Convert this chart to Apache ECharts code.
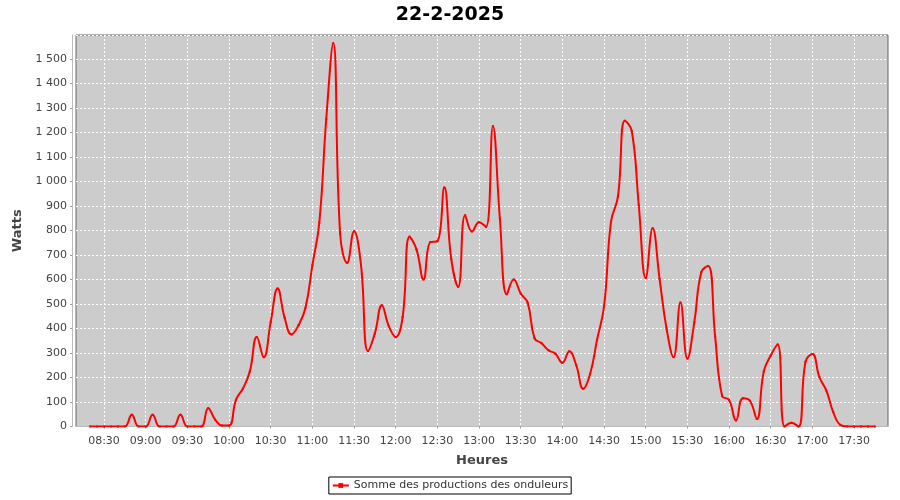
<!DOCTYPE html>
<html><head><meta charset="utf-8">
<script src="https://cdn.jsdelivr.net/npm/echarts@6/dist/echarts.min.js"></script>
<style>html,body{margin:0;padding:0;background:#fff}#c{width:900px;height:500px}</style>
</head><body><div id="c"></div>
<script>
const chartTitle = '22-2-2025';
const seriesName = 'Somme des productions des onduleurs';
const yAxisName = 'Watts';
const xAxisName = 'Heures';
const axisStart = '08:09:50';
const axisEnd = '17:54:26';
const xTickLabels = ['08:30','09:00','09:30','10:00','10:30','11:00','11:30','12:00','12:30',
  '13:00','13:30','14:00','14:30','15:00','15:30','16:00','16:30','17:00','17:30'];

const times = [
 '08:20','08:25','08:30','08:35','08:40','08:45','08:50','08:55',
 '09:00','09:05','09:10','09:15','09:20','09:25','09:30','09:35','09:40','09:45','09:50','09:55',
 '10:00','10:05','10:10','10:15','10:20','10:25','10:30','10:35','10:40','10:45','10:50','10:55',
 '11:00','11:05','11:10','11:15','11:20','11:25','11:30','11:35','11:40','11:45','11:50','11:55',
 '12:00','12:05','12:10','12:15','12:20','12:25','12:30','12:35','12:40','12:45','12:50','12:55',
 '13:00','13:05','13:10','13:15','13:20','13:25','13:30','13:35','13:40','13:45','13:50','13:55',
 '14:00','14:05','14:10','14:15','14:20','14:25','14:30','14:35','14:40','14:45','14:50','14:55',
 '15:00','15:05','15:10','15:15','15:20','15:25','15:30','15:35','15:40','15:45','15:50','15:55',
 '16:00','16:05','16:10','16:15','16:20','16:25','16:30','16:35','16:40','16:45','16:50','16:55',
 '17:00','17:05','17:10','17:15','17:20','17:25','17:30','17:35','17:40','17:45'
];
const watts = [
 0,0,0,0,0,0,48,0,
 0,48,0,0,0,48,0,0,0,75,28,4,
 4,109,155,225,365,283,426,563,445,376,413,484,
 658,832,1255,1564,787,668,797,660,308,380,495,410,
 365,447,775,722,600,753,756,976,683,570,862,796,
 834,815,1226,849,540,600,543,505,360,340,311,297,
 260,307,250,154,215,355,490,835,938,1248,1205,903,
 606,809,602,400,283,506,277,426,630,655,366,125,
 108,25,115,105,31,225,290,335,0,15,0,264,
 296,202,147,59,7,0,0,0,0,0
];

function toMin(hm) {
  const p = hm.split(':').map(Number);
  return p[0] * 60 + p[1] + (p[2] || 0) / 60;
}
function fmtHM(m) {
  const h = Math.floor(m / 60), mm = Math.round(m - h * 60);
  return String(h).padStart(2, '0') + ':' + String(mm).padStart(2, '0');
}
const data = times.map((t, i) => [toMin(t), watts[i]]);
const xTickValues = xTickLabels.map(toMin);

function fmtThousands(v) {
  if (v >= 1000) {
    const r = v % 1000;
    return Math.floor(v / 1000) + ' ' + String(r).padStart(3, '0');
  }
  return String(v);
}

const FONT = 'DejaVu Sans';
const chart = echarts.init(document.getElementById('c'), null, {renderer: 'canvas'});
chart.setOption({
  animation: false,
  backgroundColor: '#ffffff',
  textStyle: {fontFamily: FONT},
  title: {
    text: chartTitle, left: 'center', top: 1,
    textStyle: {fontFamily: FONT, fontSize: 19, fontWeight: 'bold', color: '#000'}
  },
  legend: {
    data: [seriesName], left: 'center', top: 477,
    borderColor: '#000', borderWidth: 1, padding: [3, 3, 3, 3],
    itemWidth: 16, itemHeight: 6, itemGap: 4,
    textStyle: {fontFamily: FONT, fontSize: 11, color: '#333'}
  },
  grid: {
    left: 76, right: 12, top: 35, bottom: 73.5,
    show: true, backgroundColor: '#cccccc', borderColor: '#666666', borderWidth: 1,
    containLabel: false
  },
  xAxis: {
    type: 'value',
    min: toMin(axisStart), max: toMin(axisEnd),
    offset: 4,
    name: xAxisName, nameLocation: 'middle', nameGap: 24,
    nameTextStyle: {fontFamily: FONT, fontSize: 13, fontWeight: 'bold', color: '#444'},
    axisLine: {show: true, lineStyle: {color: '#bbbbbb', width: 1}},
    axisTick: {show: true, length: 2, lineStyle: {color: '#999'}, customValues: xTickValues},
    axisLabel: {
      customValues: xTickValues,
      formatter: fmtHM, color: '#444', fontSize: 11, fontFamily: FONT, margin: 5,
      hideOverlap: false
    },
    splitLine: {show: true, lineStyle: {color: '#ffffff', width: 1, type: [2, 2]}}
  },
  yAxis: {
    type: 'value', min: 0, max: 1598, interval: 100,
    offset: 4,
    name: yAxisName, nameLocation: 'middle', nameGap: 42, nameRotate: 90,
    nameTextStyle: {fontFamily: FONT, fontSize: 13, fontWeight: 'bold', color: '#444'},
    axisLine: {show: true, lineStyle: {color: '#bbbbbb', width: 1}},
    axisTick: {show: true, length: 2, lineStyle: {color: '#999'}},
    axisLabel: {
      formatter: fmtThousands, color: '#444', fontSize: 11, fontFamily: FONT, margin: 5,
      showMaxLabel: false
    },
    splitLine: {show: true, lineStyle: {color: '#ffffff', width: 1, type: [2, 2]}}
  },
  series: [{
    name: seriesName, type: 'line', data: data,
    smooth: 0.45,
    showSymbol: true, symbol: 'rect', symbolSize: 2,
    itemStyle: {color: '#ff0000'},
    lineStyle: {color: '#ff0000', width: 2},
    clip: true
  }]
});
</script></body></html>
